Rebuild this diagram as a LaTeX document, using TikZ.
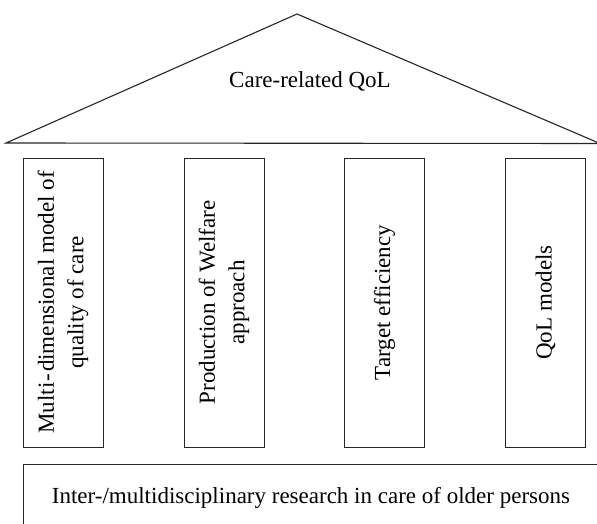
\documentclass[tikz,border=0pt]{standalone}
\usepackage{fontspec}
\setmainfont{Liberation Serif}
\begin{document}
\begin{tikzpicture}[x=1pt,y=-1pt,
  line width=0.9pt,
  ink/.style={draw=black!85},
  pillar/.style={ink, rectangle, rotate=90, minimum width=289pt, minimum height=80pt,
    inner sep=0pt, align=center, font=\fontsize{23}{29.5}\selectfont},
  label/.style={font=\fontsize{23}{29.5}\selectfont, inner sep=0pt, anchor=base}]
  \useasboundingbox (0,0) rectangle (597,524);
  \clip (0,0) rectangle (597,524);
  % roof
  \coordinate (roofL) at (6,143);
  \coordinate (roofT) at (297,14);
  \coordinate (roofR) at (600,143.5);
  \draw[ink, line width=1.1pt, line join=miter] (roofL) -- (roofT) -- (roofR) -- cycle;
  \node[label] (roof) at (310,88) {Care-related QoL};
  % pillars
  \node[pillar] (p1) at (63,302.5) {Multi\kern1.5pt-\kern1.5pt dimensional model of\\quality of care};
  \node[pillar] (p2) at (224,302.5) {Production of Welfare\\approach};
  \node[pillar] (p3) at (384.5,302.5) {Target efficiency};
  \node[pillar] (p4) at (545.5,302.5) {QoL models};
  % foundation
  \node[ink, line width=1.1pt, rectangle, anchor=north west, minimum width=590pt, minimum height=80pt, inner sep=0pt] (found) at (23,464) {};
  \node[label] (foundtext) at (311,503) {Inter-/multidisciplinary research in care of older persons};
\end{tikzpicture}
\end{document}
